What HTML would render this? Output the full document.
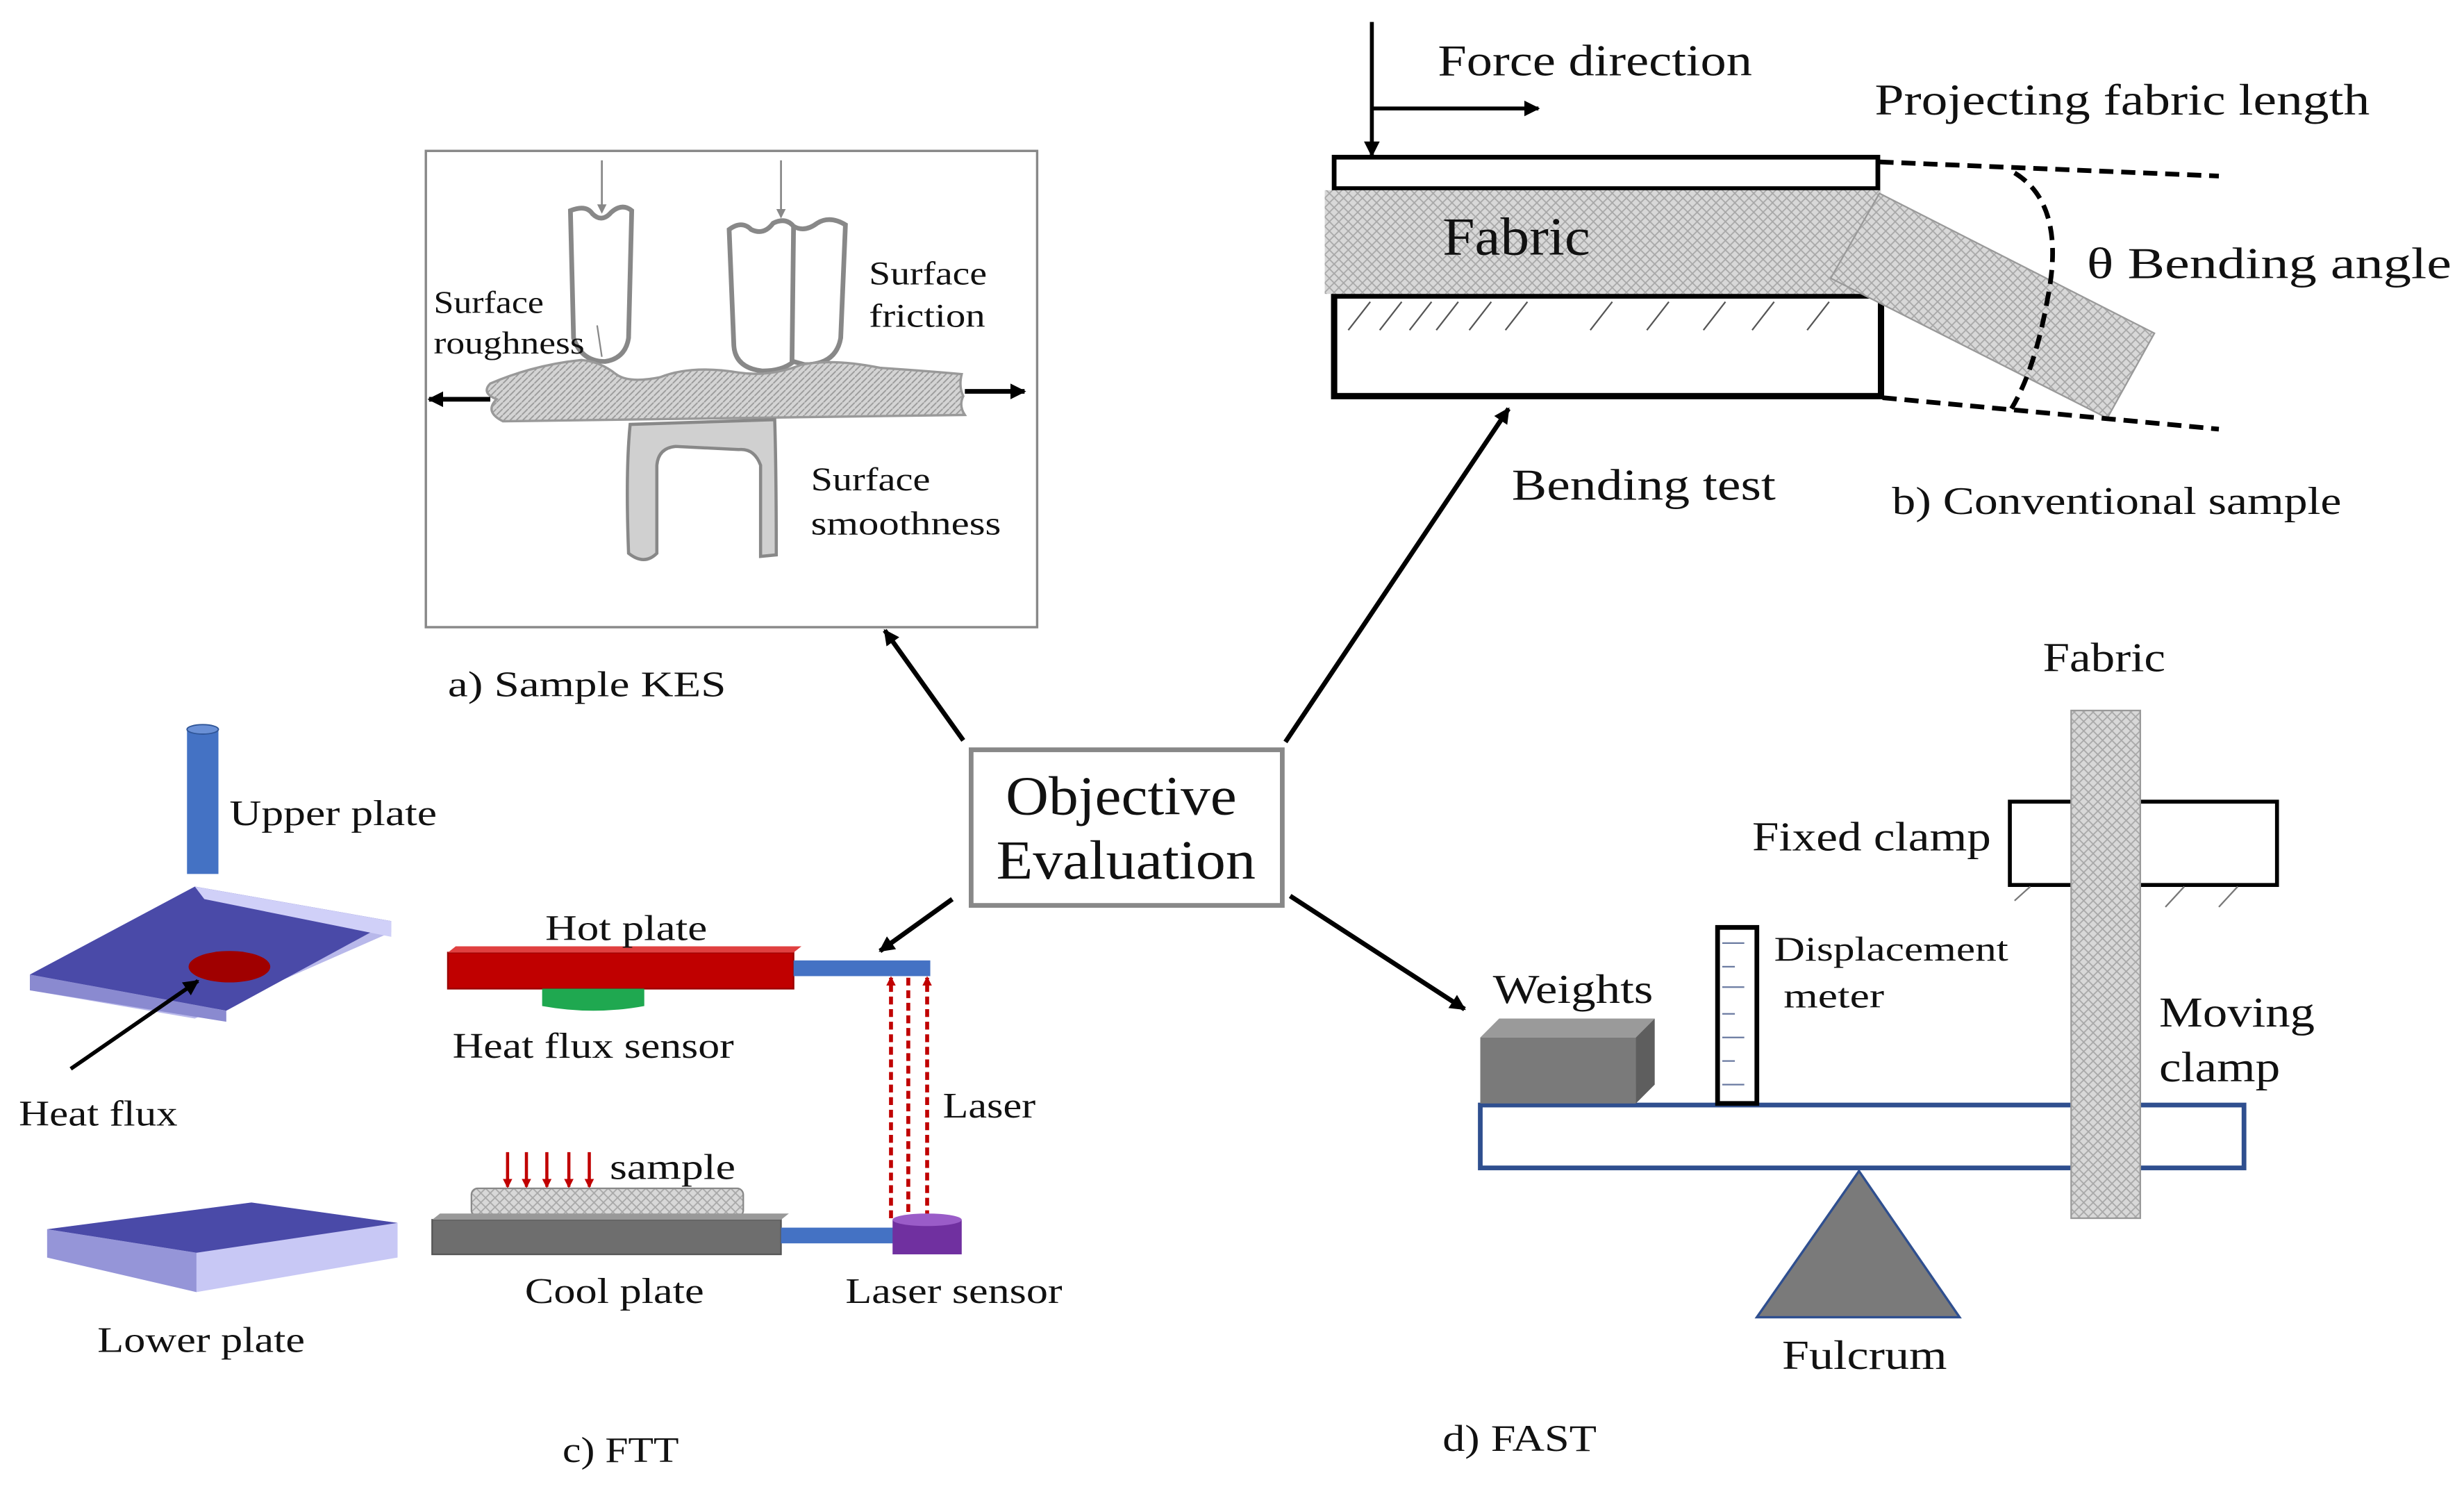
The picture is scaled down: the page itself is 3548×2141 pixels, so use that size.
<!DOCTYPE html>
<html><head><meta charset="utf-8"><style>
html,body{margin:0;padding:0;background:#fff;}
svg{display:block;}
text{font-family:"Liberation Serif",serif;fill:#111;}
</style></head><body>
<svg width="3548" height="2141" viewBox="0 0 1568 946" preserveAspectRatio="none" xmlns="http://www.w3.org/2000/svg">
<defs>
<marker id="ah" markerWidth="10" markerHeight="10" refX="9" refY="5" orient="auto" markerUnits="userSpaceOnUse"><path d="M0,0 L10,5 L0,10 z" fill="#000"/></marker>
<marker id="ahs" markerWidth="6" markerHeight="6" refX="5" refY="3" orient="auto" markerUnits="userSpaceOnUse"><path d="M0,0 L6,3 L0,6 z" fill="#888"/></marker>
<marker id="ahr" markerWidth="6" markerHeight="6" refX="5" refY="3" orient="auto" markerUnits="userSpaceOnUse"><path d="M0,0 L6,3 L0,6 z" fill="#c00000"/></marker>
<pattern id="hatch" width="4" height="4" patternUnits="userSpaceOnUse"><rect width="4" height="4" fill="#d4d4d4"/><path d="M0,4 L4,0" stroke="#999" stroke-width="0.8"/></pattern>
<pattern id="knit" width="6" height="6" patternUnits="userSpaceOnUse"><rect width="6" height="6" fill="#d8d8d8"/><path d="M0,3 L3,0 L6,3 L3,6 z" fill="none" stroke="#a8a8a8" stroke-width="0.8"/></pattern>
</defs>

<!-- KES panel -->
<rect x="271" y="96" width="389" height="303" fill="#fff" stroke="#888" stroke-width="1.5"/>
<line x1="383" y1="102" x2="383" y2="135" stroke="#888" stroke-width="1.2" marker-end="url(#ahs)"/>
<line x1="497" y1="102" x2="497" y2="138" stroke="#888" stroke-width="1.2" marker-end="url(#ahs)"/>
<path d="M363,134 Q373,130 377,136 Q383,142 389,135 Q396,129 402,134 L400,215 Q398,228 385,230 Q370,230 365,215 Z" fill="#fff" stroke="#888" stroke-width="3"/>
<path d="M464,146 Q472,140 478,146 Q486,150 492,142 Q500,138 505,144 Q512,148 520,142 Q528,137 538,143 L535,215 Q532,232 512,232 L505,230 Q498,236 485,236 Q468,234 467,220 Z" fill="#fff" stroke="#888" stroke-width="3"/>
<line x1="505" y1="143" x2="504" y2="230" stroke="#888" stroke-width="3"/>
<path d="M312,244 Q340,232 370,229 Q382,230 392,238 Q400,244 420,240 Q440,232 470,237 Q490,240 510,232 Q530,228 560,234 Q590,236 612,238 Q610,246 613,252 Q610,258 614,264 L320,268 Q308,262 316,254 Q306,250 312,244 Z" fill="url(#hatch)" stroke="#999" stroke-width="1.5"/>
<path d="M401,270 L493,267 Q494,300 494,353 L484,354 L484,296 Q480,285 470,286 L430,284 Q419,285 418,296 L418,352 Q410,360 400,352 Q398,300 401,270 Z" fill="#d0d0d0" stroke="#888" stroke-width="2"/>
<line x1="312" y1="254" x2="273" y2="254" stroke="#000" stroke-width="3" marker-end="url(#ah)"/>
<line x1="614" y1="249" x2="652" y2="249" stroke="#000" stroke-width="3" marker-end="url(#ah)"/>
<line x1="380" y1="207" x2="383" y2="227" stroke="#888" stroke-width="1"/>
<text x="276" y="199" font-size="20" textLength="70" lengthAdjust="spacingAndGlyphs">Surface</text>
<text x="276" y="225" font-size="20" textLength="96" lengthAdjust="spacingAndGlyphs">roughness</text>
<text x="553" y="181" font-size="21" textLength="75" lengthAdjust="spacingAndGlyphs">Surface</text>
<text x="553" y="208" font-size="21" textLength="74" lengthAdjust="spacingAndGlyphs">friction</text>
<text x="516" y="312" font-size="21" textLength="76" lengthAdjust="spacingAndGlyphs">Surface</text>
<text x="516" y="340" font-size="21" textLength="121" lengthAdjust="spacingAndGlyphs">smoothness</text>
<text x="285" y="443" font-size="23" textLength="177" lengthAdjust="spacingAndGlyphs">a) Sample KES</text>

<!-- Objective Evaluation -->
<rect x="618" y="477" width="198" height="99" fill="#fff" stroke="#888" stroke-width="3"/>
<text x="640" y="518" font-size="35" textLength="147" lengthAdjust="spacingAndGlyphs">Objective</text>
<text x="634" y="559" font-size="35" textLength="165" lengthAdjust="spacingAndGlyphs">Evaluation</text>
<line x1="613" y1="471" x2="563" y2="401" stroke="#000" stroke-width="3" marker-end="url(#ah)"/>
<line x1="818" y1="472" x2="960" y2="260" stroke="#000" stroke-width="3" marker-end="url(#ah)"/>
<line x1="606" y1="572" x2="560" y2="605" stroke="#000" stroke-width="3" marker-end="url(#ah)"/>
<line x1="821" y1="570" x2="932" y2="642" stroke="#000" stroke-width="3" marker-end="url(#ah)"/>

<!-- Bending -->
<line x1="873" y1="14" x2="873" y2="99" stroke="#000" stroke-width="2.5" marker-end="url(#ah)"/>
<line x1="874" y1="69" x2="979" y2="69" stroke="#000" stroke-width="2.5" marker-end="url(#ah)"/>
<text x="915" y="48" font-size="28" textLength="200" lengthAdjust="spacingAndGlyphs">Force direction</text>
<text x="1193" y="73" font-size="28" textLength="315" lengthAdjust="spacingAndGlyphs">Projecting fabric length</text>
<rect x="849" y="100" width="346" height="20" fill="#fff" stroke="#000" stroke-width="3"/>
<rect x="849" y="188" width="348" height="64" fill="#fff" stroke="#000" stroke-width="4"/>
<g stroke="#555" stroke-width="1">
<line x1="858" y1="210" x2="872" y2="192"/><line x1="878" y1="210" x2="892" y2="192"/><line x1="897" y1="210" x2="911" y2="192"/><line x1="914" y1="210" x2="928" y2="192"/><line x1="935" y1="210" x2="949" y2="192"/><line x1="958" y1="210" x2="972" y2="192"/><line x1="1012" y1="210" x2="1026" y2="192"/><line x1="1048" y1="210" x2="1062" y2="192"/><line x1="1084" y1="210" x2="1098" y2="192"/><line x1="1115" y1="210" x2="1129" y2="192"/><line x1="1150" y1="210" x2="1164" y2="192"/>
</g>
<rect x="843" y="121" width="354" height="66" fill="url(#knit)"/>
<polygon points="1196,123 1371,212 1341,266 1165,177" fill="url(#knit)" stroke="#999" stroke-width="1"/>
<text x="918" y="162" font-size="34" textLength="94" lengthAdjust="spacingAndGlyphs">Fabric</text>
<g stroke="#000" stroke-width="3" stroke-dasharray="9,5" fill="none">
<line x1="1196" y1="103" x2="1412" y2="112"/>
<line x1="1198" y1="253" x2="1412" y2="273"/>
<path d="M1282,110 Q1315,130 1303,190 Q1295,235 1280,260"/>
</g>
<text x="1328" y="177" font-size="28" textLength="232" lengthAdjust="spacingAndGlyphs">θ  Bending angle</text>
<text x="962" y="318" font-size="28" textLength="168" lengthAdjust="spacingAndGlyphs">Bending test</text>
<text x="1204" y="327" font-size="25" textLength="286" lengthAdjust="spacingAndGlyphs">b) Conventional sample</text>

<!-- FTT -->
<rect x="119" y="464" width="20" height="92" fill="#4472c4"/>
<ellipse cx="129" cy="464" rx="10" ry="3" fill="#6a90d6" stroke="#2f5597" stroke-width="0.8"/>
<text x="146" y="525" font-size="23" textLength="132" lengthAdjust="spacingAndGlyphs">Upper plate</text>
<polygon points="19,620 124,564 249,586 249,593 124,648 19,630" fill="#b8b8ea"/>
<polygon points="19,620 124,564 249,586 144,643" fill="#4a4aa8"/>
<polygon points="124,564 249,586 249,596 130,572" fill="#d0d0f8"/>
<polygon points="19,620 144,643 144,650 19,630" fill="#8a8ad0"/>
<ellipse cx="146" cy="615" rx="26" ry="10" fill="#a00000"/>
<line x1="45" y1="680" x2="126" y2="624" stroke="#000" stroke-width="2.5" marker-end="url(#ah)"/>
<text x="12" y="716" font-size="23" textLength="101" lengthAdjust="spacingAndGlyphs">Heat flux</text>
<polygon points="30,782 160,765 253,778 253,800 125,822 30,800" fill="#c8c8f5"/>
<polygon points="30,782 160,765 253,778 125,797" fill="#4a4aa8"/>
<polygon points="30,782 125,797 125,822 30,800" fill="#9595d8"/>
<text x="62" y="860" font-size="23" textLength="132" lengthAdjust="spacingAndGlyphs">Lower plate</text>

<rect x="285" y="606" width="220" height="23" fill="#c00000" stroke="#900" stroke-width="1"/>
<polygon points="285,606 290,602 510,602 505,606" fill="#e04040"/>
<rect x="505" y="611" width="87" height="10" fill="#4472c4"/>
<path d="M345,629 L410,629 L410,640 Q378,646 345,640 Z" fill="#1fa850"/>
<text x="347" y="598" font-size="23" textLength="103" lengthAdjust="spacingAndGlyphs">Hot plate</text>
<text x="288" y="673" font-size="23" textLength="179" lengthAdjust="spacingAndGlyphs">Heat flux sensor</text>
<g stroke="#c00000" stroke-width="2.5" stroke-dasharray="5,3">
<line x1="567" y1="775" x2="567" y2="622" marker-end="url(#ahr)"/>
<line x1="578" y1="622" x2="578" y2="778" marker-end="url(#ahr)"/>
<line x1="590" y1="775" x2="590" y2="622" marker-end="url(#ahr)"/>
</g>
<text x="600" y="711" font-size="23" textLength="59" lengthAdjust="spacingAndGlyphs">Laser</text>
<g stroke="#c00000" stroke-width="2">
<line x1="323" y1="733" x2="323" y2="755" marker-end="url(#ahr)"/>
<line x1="335" y1="733" x2="335" y2="755" marker-end="url(#ahr)"/>
<line x1="348" y1="733" x2="348" y2="755" marker-end="url(#ahr)"/>
<line x1="362" y1="733" x2="362" y2="755" marker-end="url(#ahr)"/>
<line x1="375" y1="733" x2="375" y2="755" marker-end="url(#ahr)"/>
</g>
<rect x="300" y="756" width="173" height="18" rx="4" fill="url(#knit)" stroke="#888" stroke-width="1"/>
<text x="388" y="750" font-size="23" textLength="80" lengthAdjust="spacingAndGlyphs">sample</text>
<rect x="275" y="776" width="222" height="22" fill="#6e6e6e" stroke="#555"/>
<polygon points="275,776 280,772 502,772 497,776" fill="#999"/>
<rect x="497" y="781" width="75" height="10" fill="#4472c4"/>
<rect x="568" y="776" width="44" height="22" fill="#7030a0"/>
<ellipse cx="590" cy="776" rx="22" ry="4" fill="#9a5cc8"/>
<text x="334" y="829" font-size="23" textLength="114" lengthAdjust="spacingAndGlyphs">Cool plate</text>
<text x="538" y="829" font-size="23" textLength="138" lengthAdjust="spacingAndGlyphs">Laser sensor</text>
<text x="358" y="930" font-size="23" textLength="74" lengthAdjust="spacingAndGlyphs">c) FTT</text>

<!-- FAST -->
<text x="1300" y="427" font-size="26" textLength="78" lengthAdjust="spacingAndGlyphs">Fabric</text>
<rect x="1279" y="510" width="170" height="53" fill="#fff" stroke="#000" stroke-width="2.5"/>
<g stroke="#777" stroke-width="1"><line x1="1282" y1="573" x2="1292" y2="564"/><line x1="1378" y1="577" x2="1390" y2="564"/><line x1="1412" y1="577" x2="1424" y2="564"/></g>
<text x="1115" y="541" font-size="26" textLength="152" lengthAdjust="spacingAndGlyphs">Fixed clamp</text>
<rect x="942" y="703" width="486" height="40" fill="#fff" stroke="#2f4f8f" stroke-width="3"/>
<rect x="1318" y="452" width="44" height="323" fill="url(#knit)" stroke="#999" stroke-width="1"/>
<polygon points="942,660 954,648 1053,648 1041,660" fill="#9a9a9a"/>
<polygon points="1041,660 1053,648 1053,690 1041,702" fill="#5e5e5e"/>
<rect x="942" y="660" width="99" height="42" fill="#7a7a7a"/>
<text x="950" y="638" font-size="26" textLength="102" lengthAdjust="spacingAndGlyphs">Weights</text>
<rect x="1093" y="590" width="25" height="112" fill="#fff" stroke="#000" stroke-width="3"/>
<g stroke="#6a7aa0" stroke-width="1"><line x1="1096" y1="600" x2="1110" y2="600"/><line x1="1096" y1="615" x2="1104" y2="615"/><line x1="1096" y1="628" x2="1110" y2="628"/><line x1="1096" y1="645" x2="1104" y2="645"/><line x1="1096" y1="660" x2="1110" y2="660"/><line x1="1096" y1="675" x2="1104" y2="675"/><line x1="1096" y1="690" x2="1110" y2="690"/></g>
<text x="1129" y="611" font-size="22" textLength="149" lengthAdjust="spacingAndGlyphs">Displacement</text>
<text x="1135" y="641" font-size="22" textLength="64" lengthAdjust="spacingAndGlyphs">meter</text>
<text x="1374" y="653" font-size="27" textLength="99" lengthAdjust="spacingAndGlyphs">Moving</text>
<text x="1374" y="688" font-size="27" textLength="77" lengthAdjust="spacingAndGlyphs">clamp</text>
<polygon points="1183,745 1118,838 1247,838" fill="#7a7a7a" stroke="#2f4f8f" stroke-width="1.5"/>
<text x="1134" y="871" font-size="26" textLength="105" lengthAdjust="spacingAndGlyphs">Fulcrum</text>
<text x="918" y="923" font-size="24" textLength="98" lengthAdjust="spacingAndGlyphs">d) FAST</text>
</svg>
</body></html>
